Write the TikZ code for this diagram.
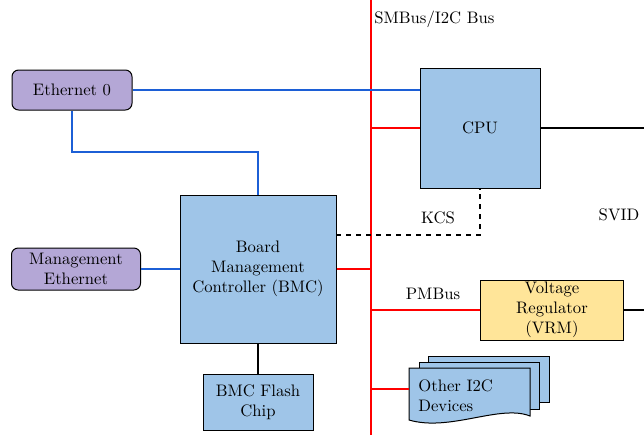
\documentclass[tikz,border=0pt]{standalone}
\usetikzlibrary{calc}
\definecolor{boxblue}{HTML}{9FC5E8}
\definecolor{boxpurple}{HTML}{B4A7D6}
\definecolor{boxyellow}{HTML}{FFE599}
\definecolor{linkblue}{HTML}{1C5FD6}
\definecolor{busred}{HTML}{FF0000}
\begin{document}
\begin{tikzpicture}[x=0.6pt,y=-0.6pt,
  box/.style={draw=black, fill=boxblue, inner sep=0pt, align=center, line width=0.6pt},
  ethbox/.style={box, fill=boxpurple, rounded corners=4pt},
  vrmbox/.style={box, fill=boxyellow},
  lbl/.style={inner sep=0pt},
  buswire/.style={draw=busred, line width=1.5pt},
  redwire/.style={draw=busred, line width=0.9pt},
  bluewire/.style={draw=linkblue, line width=1.1pt},
  blackwire/.style={draw=black, line width=0.9pt},
  dashwire/.style={draw=black, line width=0.9pt, dashed}]
\useasboundingbox (0,0) rectangle (644,435);

\node[ethbox, minimum width=72pt, minimum height=24pt] (eth0) at (72,90) {Ethernet 0};
\node[box, minimum width=72pt, minimum height=72pt] (cpu) at (480,128) {CPU};
\node[box, minimum width=93.6pt, minimum height=88.8pt] (bmc) at (258,269) {Board\\Management\\Controller (BMC)};
\node[ethbox, minimum width=77.4pt, minimum height=25.2pt] (mgmt) at (76,269) {Management\\Ethernet};
\node[box, minimum width=66pt, minimum height=33.6pt] (flash) at (258,402) {BMC Flash\\Chip};
\node[vrmbox, minimum width=85.8pt, minimum height=36pt] (vrm) at (552,310) {Voltage\\Regulator\\(VRM)};

% other I2C devices stack
\draw[box] (428,356) rectangle (549,402);
\draw[box] (419,362) rectangle (539,409);
\draw[box] (409,368) -- (530,368) -- (530,416)
  .. controls (500,404) and (450,432) .. (409,420) -- cycle;
\node[lbl, align=left, anchor=north west] (other) at (418,379) {Other I2C\\Devices};
\coordinate (otherw) at (409,389);

% bus
\coordinate (bustop) at (371,0);
\coordinate (busbot) at (371,435);
\draw[buswire] (bustop) -- (busbot);
\node[lbl, anchor=west] (buslbl) at (374,19) {SMBus/I2C Bus};

% red branches
\draw[redwire] (cpu.west -| bustop) -- (cpu.west);
\draw[redwire] (bmc.east) -- (bmc.east -| bustop);
\draw[redwire] (vrm.west -| bustop) -- (vrm.west);
\draw[redwire] (otherw -| bustop) -- (otherw);

% blue links
\draw[bluewire] (eth0.east) -- (eth0.east -| cpu.west);
\coordinate (ethbend) at (258,152);
\draw[bluewire] (eth0.south) |- (ethbend) -- (bmc.north);
\draw[bluewire] (mgmt.east) -- (mgmt.east -| bmc.west);

% black links
\draw[blackwire] (bmc.south) -- (flash.north);
\coordinate (cpuR) at (644,128);
\draw[blackwire] (cpu.east) -- (cpuR);
\coordinate (vrmR) at (644,310);
\draw[blackwire] (vrm.east) -- (vrmR);
\coordinate (kcsL) at (336,235);
\draw[dashwire] (kcsL) -| (cpu.south);

% labels
\node[lbl] (kcs) at (438,218) {KCS};
\node[lbl] (svid) at (619,215) {SVID};
\node[lbl] (pmbus) at (433,294) {PMBus};
\end{tikzpicture}
\end{document}
